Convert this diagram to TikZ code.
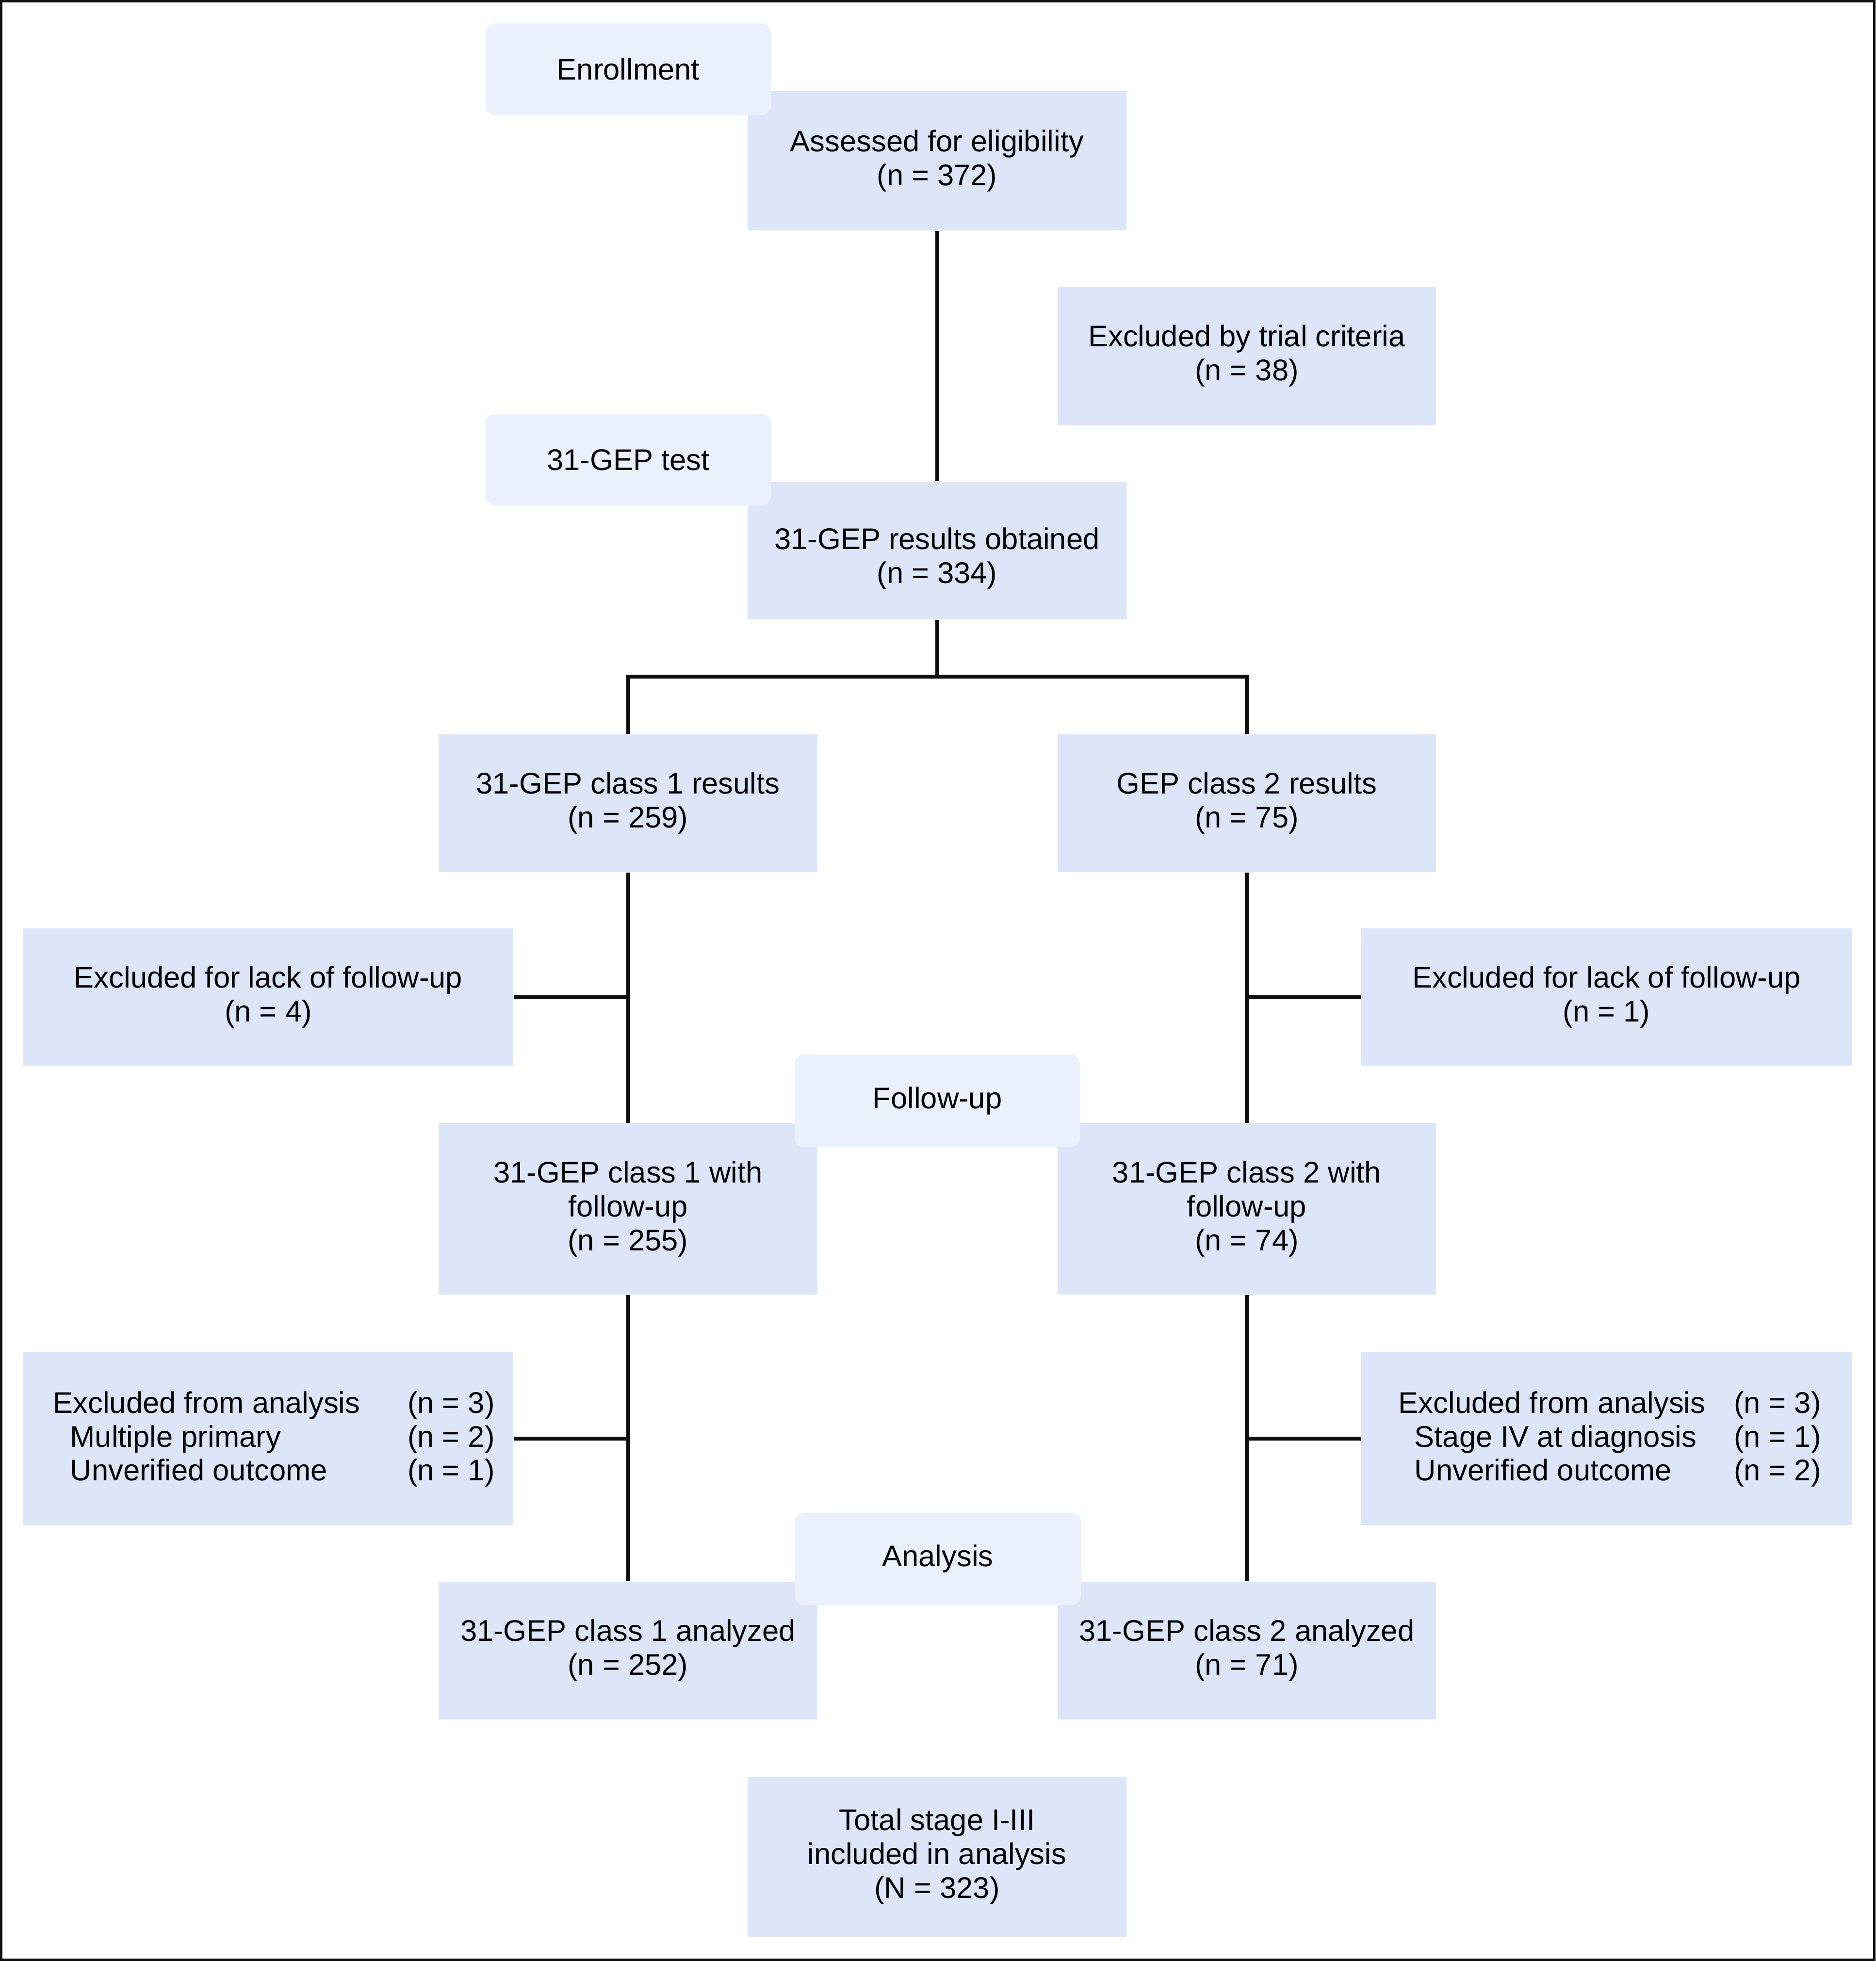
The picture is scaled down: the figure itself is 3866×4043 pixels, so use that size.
\documentclass[tikz,border=0pt]{standalone}
\usepackage{fontspec}
\setmainfont{Liberation Sans}
\usetikzlibrary{calc}
\definecolor{boxfill}{RGB}{220,230,248}
\definecolor{labfill}{RGB}{234,241,252}
\definecolor{linecol}{RGB}{13,15,14}
\begin{document}
\begin{tikzpicture}[x=0.01cm,y=-0.01cm,
  every node/.style={font=\fontsize{17.5}{19.9}\selectfont, text=black},
  box/.style={fill=boxfill, draw=none, align=center, inner sep=0pt},
  lab/.style={fill=labfill, draw=none, rounded corners=0.2cm, align=center, inner sep=0pt,
    minimum width=5.88cm, minimum height=1.89cm},
  stdbox/.style={box, minimum width=7.8cm},
  widebox/.style={box, minimum width=10.1cm},
  conn/.style={draw=linecol, line width=0.08cm, line join=miter},
  tabtext/.style={inner sep=0pt, anchor=base west, align=left}
]
\useasboundingbox (0,0) rectangle (3866,4043);
\fill[white] (0,0) rectangle (3866,4043);

% main boxes
\node[stdbox, minimum height=2.87cm] (assess) at (1931.5,331.5) {Assessed for eligibility\\(n = 372)};
\node[stdbox, minimum height=2.86cm] (excl) at (2570,734) {Excluded by trial criteria\\(n = 38)};
\node[stdbox, minimum height=2.84cm] (res) at (1931.5,1135) {};
\node[align=center, inner sep=0pt] (restext) at (1931.5,1152) {31-GEP results obtained\\(n = 334)};
\node[stdbox, minimum height=2.84cm] (c1) at (1294.5,1656) {31-GEP class 1 results\\(n = 259)};
\node[stdbox, minimum height=2.84cm] (c2) at (2570,1656) {GEP class 2 results\\(n = 75)};
\node[widebox, minimum height=2.83cm] (exL) at (553,2055.5) {Excluded for lack of follow-up\\(n = 4)};
\node[widebox, minimum height=2.83cm] (exR) at (3311.5,2055.5) {Excluded for lack of follow-up\\(n = 1)};
\node[stdbox, minimum height=3.53cm] (c1f) at (1294.5,2492.5) {31-GEP class 1 with\\follow-up\\(n = 255)};
\node[stdbox, minimum height=3.53cm] (c2f) at (2570,2492.5) {31-GEP class 2 with\\follow-up\\(n = 74)};
\node[widebox, minimum height=3.56cm] (eaL) at (553,2966) {};
\node[widebox, minimum height=3.56cm] (eaR) at (3311.5,2966) {};
\node[stdbox, minimum height=2.84cm] (c1a) at (1294.5,3403) {31-GEP class 1 analyzed\\(n = 252)};
\node[stdbox, minimum height=2.84cm] (c2a) at (2570,3403) {31-GEP class 2 analyzed\\(n = 71)};
\node[stdbox, minimum height=3.30cm] (tot) at (1931.5,3828) {Total stage I-III\\included in analysis\\(N = 323)};

% tabular texts
\node[tabtext] (eaLtext) at (109,2913) {\begin{tabular}[t]{@{}l@{}}
\makebox[7.30cm][l]{Excluded from analysis}(n = 3)\\
\makebox[7.30cm][l]{\hspace{0.35cm}Multiple primary}(n = 2)\\
\makebox[7.30cm][l]{\hspace{0.35cm}Unverified outcome}(n = 1)
\end{tabular}};
\node[tabtext] (eaRtext) at (2882,2913) {\begin{tabular}[t]{@{}l@{}}
\makebox[6.91cm][l]{Excluded from analysis}(n = 3)\\
\makebox[6.91cm][l]{\hspace{0.33cm}Stage IV at diagnosis}(n = 1)\\
\makebox[6.91cm][l]{\hspace{0.33cm}Unverified outcome}(n = 2)
\end{tabular}};

% stage labels (on top)
\node[lab] (enr) at (1295,143) {Enrollment};
\node[lab] (gept) at (1295,948) {31-GEP test};
\node[lab, minimum height=1.91cm] (fu) at (1932,2269.5) {Follow-up};
\node[lab, minimum width=5.90cm, minimum height=1.90cm] (an) at (1933,3214) {Analysis};

% connectors
\coordinate (split) at (1931.5,1395);
\draw[conn] (assess.south) -- (res.north);
\draw[conn] (res.south) -- (split);
\draw[conn] (c1.north) |- (split) -| (c2.north);
\draw[conn] (c1.south) -- (c1f.north);
\draw[conn] (c2.south) -- (c2f.north);
\draw[conn] (exL.east) -- (exL.east -| c1.south);
\draw[conn] (exR.west) -- (exR.west -| c2.south);
\draw[conn] (c1f.south) -- (c1a.north);
\draw[conn] (c2f.south) -- (c2a.north);
\draw[conn] (eaL.east) -- (eaL.east -| c1f.south);
\draw[conn] (eaR.west) -- (eaR.west -| c2f.south);

% frame
\draw[draw=linecol, line width=0.05cm] (2.5,2.5) rectangle (3863.5,4040.5);
\end{tikzpicture}
\end{document}
